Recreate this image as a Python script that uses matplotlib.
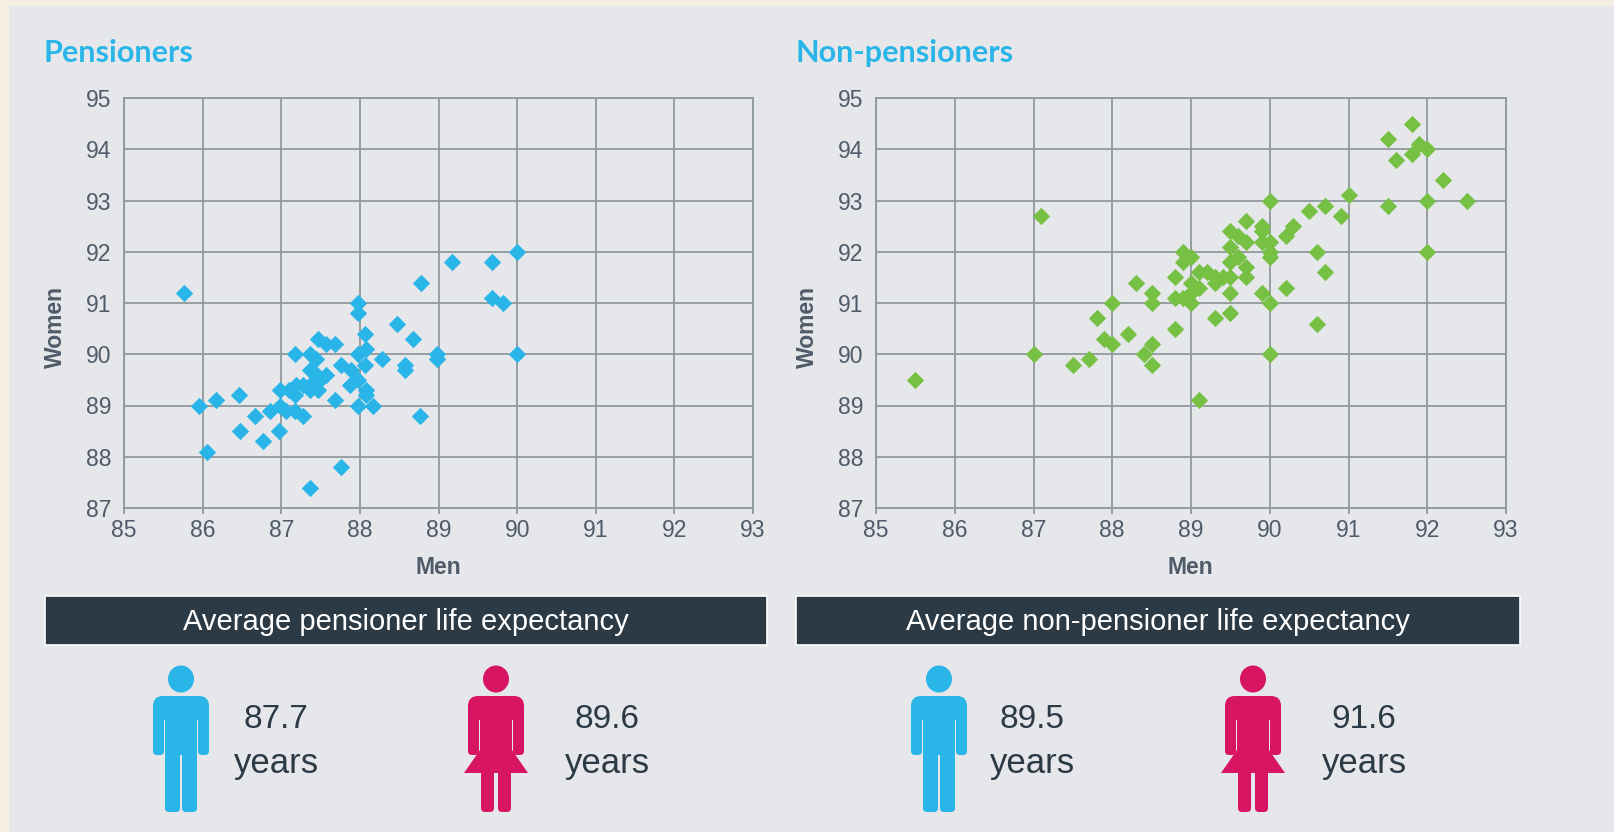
import matplotlib
matplotlib.use("Agg")
import matplotlib.pyplot as plt
from matplotlib.patches import Ellipse, FancyBboxPatch, Polygon, Rectangle

W, H = 1614, 832

pens_men = [85.76, 85.96, 86.17, 86.46, 86.67, 86.47, 86.77, 86.97, 86.06, 86.86, 86.98, 87.06, 87.17, 87.28,
            86.98, 87.1, 87.19, 87.17, 87.28, 87.36, 87.47, 87.36, 87.45, 87.57, 87.49, 87.37, 87.17, 87.37,
            87.44, 87.47, 87.57, 87.68, 87.68, 87.76, 87.89, 87.87, 87.97, 87.97, 87.97, 88.07, 87.97, 88.08,
            88.07, 88.28, 88.08, 88.08, 87.97, 88.17, 88.47, 88.68, 88.58, 88.57, 88.98, 88.98, 88.78, 88.77,
            89.17, 89.68, 89.68, 89.82, 90.0, 90.0, 87.36, 87.76]
pens_women = [91.2, 89.0, 89.1, 89.2, 88.8, 88.5, 88.3, 88.5, 88.1, 88.9, 89.0, 88.9, 88.9, 88.8,
              89.3, 89.3, 89.4, 89.2, 89.4, 89.4, 89.3, 89.3, 89.6, 89.6, 89.5, 89.7, 90.0, 90.0,
              89.9, 90.3, 90.2, 90.2, 89.1, 89.8, 89.7, 89.4, 89.5, 91.0, 90.8, 90.4, 90.0, 90.1,
              89.8, 89.9, 89.3, 89.2, 89.0, 89.0, 90.6, 90.3, 89.8, 89.7, 90.0, 89.9, 91.4, 88.8,
              91.8, 91.8, 91.1, 91.0, 92.0, 90.0, 87.4, 87.8]

non_men = [85.5, 87.1, 87.0, 87.5, 87.7, 87.8, 88.0, 87.9, 88.0, 88.2, 88.3, 88.5, 88.5, 88.5,
           88.4, 88.5, 88.8, 88.8, 88.8, 88.9, 89.0, 88.9, 89.0, 88.9, 89.1, 89.0, 89.1, 89.0,
           89.2, 89.3, 89.3, 89.4, 89.5, 89.3, 89.5, 89.5, 89.5, 89.6, 89.7, 89.7, 89.5, 89.6,
           89.5, 89.7, 89.7, 89.9, 90.0, 90.0, 89.9, 89.9, 89.9, 90.0, 90.0, 90.0, 90.2, 90.2,
           90.3, 90.5, 90.0, 89.1, 90.7, 90.9, 91.0, 91.5, 91.5, 91.6, 91.8, 91.8, 91.9, 92.0, 92.2,
           92.0, 92.5, 92.0, 90.6, 90.7, 90.6]
non_women = [89.5, 92.7, 90.0, 89.8, 89.9, 90.7, 91.0, 90.3, 90.2, 90.4, 91.4, 91.2, 91.0, 90.2,
             90.0, 89.8, 90.5, 91.5, 91.1, 91.1, 91.0, 92.0, 91.9, 91.8, 91.6, 91.4, 91.3, 91.2,
             91.6, 91.5, 91.4, 91.5, 91.5, 90.7, 90.8, 91.2, 92.4, 92.3, 92.2, 92.6, 92.1, 91.9,
             91.8, 91.7, 91.5, 91.2, 91.0, 90.0, 92.5, 92.4, 92.2, 92.2, 92.0, 91.9, 91.3, 92.3,
             92.5, 92.8, 93.0, 89.1, 92.9, 92.7, 93.1, 92.9, 94.2, 93.8, 93.9, 94.5, 94.1, 94.0,
             93.4, 93.0, 93.0, 92.0, 92.0, 91.6, 90.6]

x_ticks = list(range(85, 94))
y_ticks = list(range(87, 96))

BG = "#E5E7EB"
OUTER = "#F5EEE3"
GRID = "#8F9A9C"
BLUE = "#29B5E8"
GREEN = "#76C043"
PINK = "#D81563"
DARK = "#2B3A45"
TEXT = "#4F5B68"

plt.rcParams["font.family"] = ["Liberation Sans", "DejaVu Sans"]


def add_axes_px(fig, left, top, right, bottom):
    return fig.add_axes([left / W, 1 - bottom / H, (right - left) / W, (bottom - top) / H])


def draw_scatter(fig, box, men, women, color):
    ax = add_axes_px(fig, *box)
    ax.set_facecolor("none")
    ax.set_xlim(85, 93)
    ax.set_ylim(87, 95)
    ax.set_xticks(x_ticks)
    ax.set_yticks(y_ticks)
    ax.grid(True, color=GRID, linewidth=1.3)
    ax.set_axisbelow(True)
    for spine in ax.spines.values():
        spine.set_color(GRID)
        spine.set_linewidth(1.3)
    ax.tick_params(colors=TEXT, color=GRID, labelsize=16.5, length=0, pad=9)
    ax.tick_params(axis="x", pad=4, length=4, width=1.3)
    ax.scatter(men, women, marker="D", s=78, color=color, linewidths=0, zorder=3, clip_on=False)
    return ax


def person(ov, cx, color, woman=False):
    ov.add_patch(Ellipse((cx, 679), 26, 27, color=color, lw=0))
    ov.add_patch(FancyBboxPatch((cx - 28, 696), 56, 24, boxstyle="round,pad=0,rounding_size=10", color=color, lw=0))
    # arms and torso
    ov.add_patch(FancyBboxPatch((cx - 28, 705), 11, 50, boxstyle="round,pad=0,rounding_size=4", color=color, lw=0))
    ov.add_patch(FancyBboxPatch((cx + 17, 705), 11, 50, boxstyle="round,pad=0,rounding_size=4", color=color, lw=0))
    ov.add_patch(Rectangle((cx - 16, 705), 32, 50, color=color, lw=0))
    if woman:
        ov.add_patch(Polygon([(cx - 16, 750), (cx + 16, 750), (cx + 32, 773), (cx - 32, 773)], color=color, lw=0))
        legs = [(cx - 15, 13), (cx + 2, 13)]
    else:
        legs = [(cx - 16, 15), (cx + 1, 15)]
    for leg_x, leg_w in legs:
        ov.add_patch(FancyBboxPatch((leg_x, 750), leg_w, 62, boxstyle="round,pad=0,rounding_size=4", color=color, lw=0))


def value_label(ov, cx, value):
    ov.text(cx, 720, value, ha="center", va="center", fontsize=24, color=DARK)
    ov.text(cx, 764, "years", ha="center", va="center", fontsize=25, color=DARK)


fig = plt.figure(figsize=(W / 100, H / 100), dpi=100, facecolor=OUTER)

ov = fig.add_axes([0, 0, 1, 1])
ov.set_xlim(0, W)
ov.set_ylim(H, 0)
ov.axis("off")
ov.add_patch(Rectangle((9, 6), W, H, color=BG, lw=0))

draw_scatter(fig, (124, 98, 753, 508), pens_men, pens_women, BLUE)
draw_scatter(fig, (876, 98, 1506, 508), non_men, non_women, GREEN)

ov.text(44, 53, "Pensioners", fontsize=22, fontweight="bold", color=BLUE, va="center", family=["Lato", "DejaVu Sans"])
ov.text(796, 53, "Non-pensioners", fontsize=22, fontweight="bold", color=BLUE, va="center", family=["Lato", "DejaVu Sans"])

for x_pos in (55, 807):
    ov.text(x_pos, 327, "Women", rotation=90, fontsize=16.5, fontweight="bold", color=TEXT, ha="center", va="center")
for x_pos in (438, 1190):
    ov.text(x_pos, 568, "Men", fontsize=16.5, fontweight="bold", color=TEXT, ha="center", va="center")

for left, right, label in [(45, 767, "Average pensioner life expectancy"), (796, 1520, "Average non-pensioner life expectancy")]:
    ov.add_patch(Rectangle((left, 596), right - left, 49, facecolor=DARK, edgecolor="white", lw=1.2))
    ov.text((left + right) / 2, 622, label, fontsize=21, color="white", ha="center", va="center")

person(ov, 181, BLUE)
person(ov, 496, PINK, woman=True)
person(ov, 939, BLUE)
person(ov, 1253, PINK, woman=True)

value_label(ov, 276, "87.7")
value_label(ov, 607, "89.6")
value_label(ov, 1032, "89.5")
value_label(ov, 1364, "91.6")

fig.savefig("out.png", dpi=100, facecolor=OUTER)
plt.close(fig)
